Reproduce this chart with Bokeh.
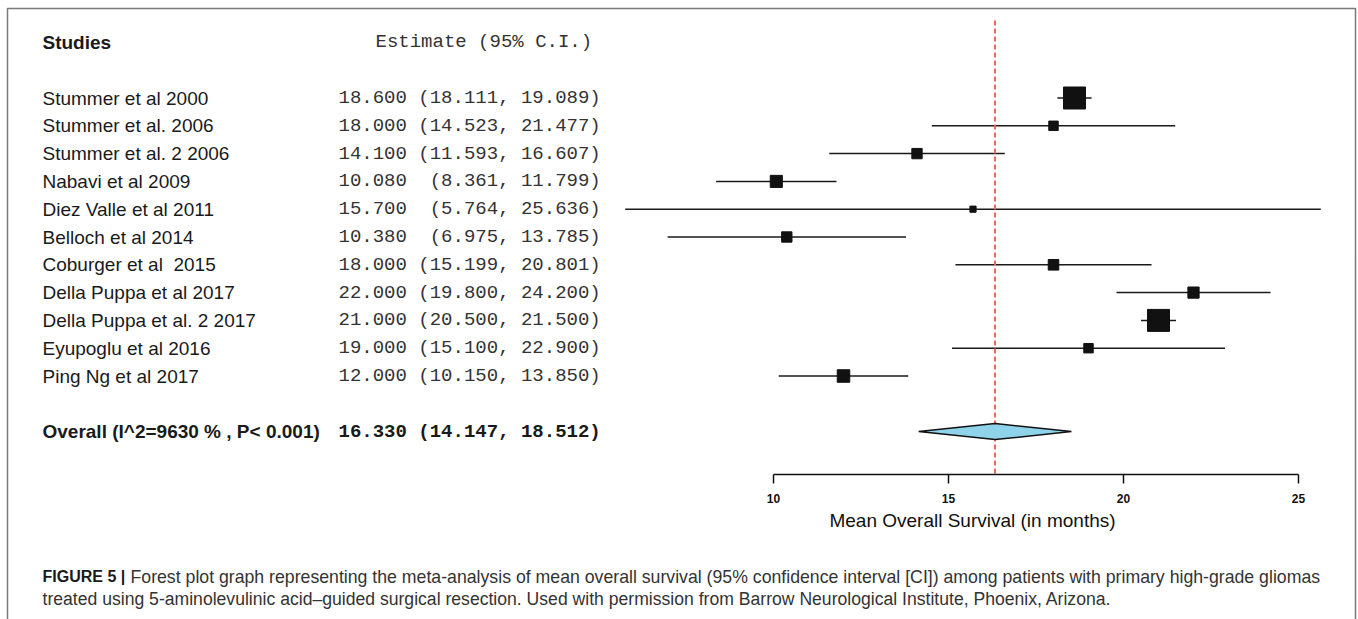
from bokeh.plotting import figure
from bokeh.models import Range1d, ColumnDataSource, BoxAnnotation
from bokeh.core.properties import value
from bokeh.embed import file_html
from bokeh.resources import INLINE

# ---------------- data ----------------
studies = [
    "Stummer et al 2000",
    "Stummer et al. 2006",
    "Stummer et al. 2 2006",
    "Nabavi et al 2009",
    "Diez Valle et al 2011",
    "Belloch et al 2014",
    "Coburger et al  2015",
    "Della Puppa et al 2017",
    "Della Puppa et al. 2 2017",
    "Eyupoglu et al 2016",
    "Ping Ng et al 2017",
]
estimates = [18.600, 18.000, 14.100, 10.080, 15.700, 10.380, 18.000, 22.000, 21.000, 19.000, 12.000]
lower = [18.111, 14.523, 11.593, 8.361, 5.764, 6.975, 15.199, 19.800, 20.500, 15.100, 10.150]
upper = [19.089, 21.477, 16.607, 11.799, 25.636, 13.785, 20.801, 24.200, 21.500, 22.900, 13.850]
# relative box size (study weight), largest = 1
rel_weight = [1.0, 0.43, 0.47, 0.55, 0.28, 0.47, 0.48, 0.51, 1.0, 0.43, 0.57]

overall_label = "Overall (I^2=9630 % , P< 0.001)"
overall_est = 16.330
overall_lower = 14.147
overall_upper = 18.512

tick_values = [10, 15, 20, 25]
x_title = "Mean Overall Survival (in months)"
header_left = "Studies"
header_right = "Estimate (95% C.I.)"
caption_bold = "FIGURE 5 |"
caption_line1 = "Forest plot graph representing the meta-analysis of mean overall survival (95% confidence interval [CI]) among patients with primary high-grade gliomas"
caption_line2 = "treated using 5-aminolevulinic acid\u2013guided surgical resection. Used with permission from Barrow Neurological Institute, Phoenix, Arizona."

# ---------------- layout constants ----------------
W, H = 1358, 619
PX_PER_UNIT = 35.0
X10_PX = 773.0
ROW0_PX = 97.5
ROW_PX = 27.8
AXIS_PX = 474
TICK_PX = 9
MAX_BOX = 22
NB = "\u00a0"


def px_x(px):
    return tick_values[0] + (px - X10_PX) / PX_PER_UNIT


def px_y(py):
    return (py - ROW0_PX) / ROW_PX + 1


def keep_spaces(s):
    return s.replace(" ", NB)


n = len(studies)
rows = list(range(1, n + 1))
overall_row = n + 2
header_row = -1
axis_row = px_y(AXIS_PX)


def fmt(e, lo, hi):
    return keep_spaces(f"{e:6.3f} {('(' + format(lo, '.3f')):>7}, {hi:6.3f})")


ci_text = [fmt(e, lo, hi) for e, lo, hi in zip(estimates, lower, upper)]
overall_text = fmt(overall_est, overall_lower, overall_upper)

src = ColumnDataSource(dict(
    study=[s.replace("  ", " " + NB) for s in studies],
    est=estimates, lo=lower, hi=upper, row=rows, ci=ci_text,
    size=[MAX_BOX * w for w in rel_weight],
    xname=[px_x(42)] * n, xci=[px_x(338)] * n,
))

p = figure(width=W, height=H, output_backend="svg", toolbar_location=None,
           x_range=Range1d(px_x(0), px_x(W)),
           y_range=Range1d(px_y(H), px_y(0)),
           min_border=0, x_axis_location=None, y_axis_location=None)
p.grid.visible = False
p.outline_line_color = None
p.background_fill_color = "white"
p.border_fill_color = "white"

# CI lines
p.segment(x0="lo", y0="row", x1="hi", y1="row", source=src, line_color="#1a1a1a", line_width=1.5)

# reference line at overall estimate
p.segment(x0=[overall_est], x1=[overall_est], y0=[px_y(20)], y1=[axis_row],
          line_color="#F2655A", line_width=2, line_dash="5 3")

# boxes
p.scatter(x="est", y="row", size="size", marker="square", source=src,
          fill_color="#111111", line_color="#111111", line_width=1)

# overall diamond
dh = 8 / ROW_PX
p.patch(x=[overall_lower, overall_est, overall_upper, overall_est],
        y=[overall_row, overall_row - dh, overall_row, overall_row + dh],
        fill_color="#8FD3EA", line_color="#111111", line_width=1.5)

# x axis (line, ticks, labels) on the plot's own x scale
p.segment(x0=[tick_values[0]], x1=[tick_values[-1]], y0=[axis_row], y1=[axis_row],
          line_color="#111111", line_width=1.5)
p.segment(x0=tick_values, x1=tick_values, y0=[axis_row] * len(tick_values),
          y1=[axis_row + TICK_PX / ROW_PX] * len(tick_values),
          line_color="#111111", line_width=1.5)
p.text(x=tick_values, y=[px_y(498)] * len(tick_values), text=[str(t) for t in tick_values],
       text_font=value("Liberation Sans"), text_font_size="12px", text_font_style="bold",
       text_align="center", text_baseline="middle", text_color="#111111")
p.text(x=[px_x(972)], y=[px_y(520)], text=[x_title], text_font=value("Liberation Sans"),
       text_font_size="19px", text_align="center", text_baseline="middle", text_color="#111111")

# text columns
p.text(x="xname", y="row", text="study", source=src, text_font=value("Liberation Sans"),
       text_font_size="19px", text_baseline="middle", text_align="left", text_color="#1a1a1a")
p.text(x="xci", y="row", text="ci", source=src, text_font=value("Liberation Mono"),
       text_font_size="19px", text_baseline="middle", text_align="left", text_color="#333333")

p.text(x=[px_x(42)], y=[header_row], text=[header_left], text_font=value("Liberation Sans"),
       text_font_size="19px", text_font_style="bold", text_baseline="middle", text_color="#1a1a1a")
p.text(x=[px_x(375)], y=[header_row], text=[keep_spaces(header_right)], text_font=value("Liberation Mono"),
       text_font_size="19px", text_baseline="middle", text_color="#333333")

p.text(x=[px_x(42)], y=[overall_row], text=[overall_label], text_font=value("Liberation Sans"),
       text_font_size="19px", text_font_style="bold", text_baseline="middle", text_color="#1a1a1a")
p.text(x=[px_x(338)], y=[overall_row], text=[overall_text], text_font=value("Liberation Mono"),
       text_font_size="19px", text_font_style="bold", text_baseline="middle", text_color="#1a1a1a")

# caption
p.text(x=[px_x(42)], y=[px_y(576)], text=[caption_bold], text_font=value("Liberation Sans"),
       text_font_size="16px", text_font_style="bold", text_baseline="middle", text_color="#1a1a1a")
p.text(x=[px_x(130)], y=[px_y(576)], text=[caption_line1], text_font=value("Liberation Sans"),
       text_font_size="17.7px", text_baseline="middle", text_color="#333333")
p.text(x=[px_x(42)], y=[px_y(598)], text=[caption_line2], text_font=value("Liberation Sans"),
       text_font_size="17.6px", text_baseline="middle", text_color="#333333")

# outer figure border
p.add_layout(BoxAnnotation(left=px_x(7), right=px_x(1355), top=px_y(8), bottom=px_y(660),
                           fill_color=None, line_color="#7a7a7a", line_alpha=1.0, line_width=1.5))

open("out.html", "w").write(file_html(p, INLINE))
